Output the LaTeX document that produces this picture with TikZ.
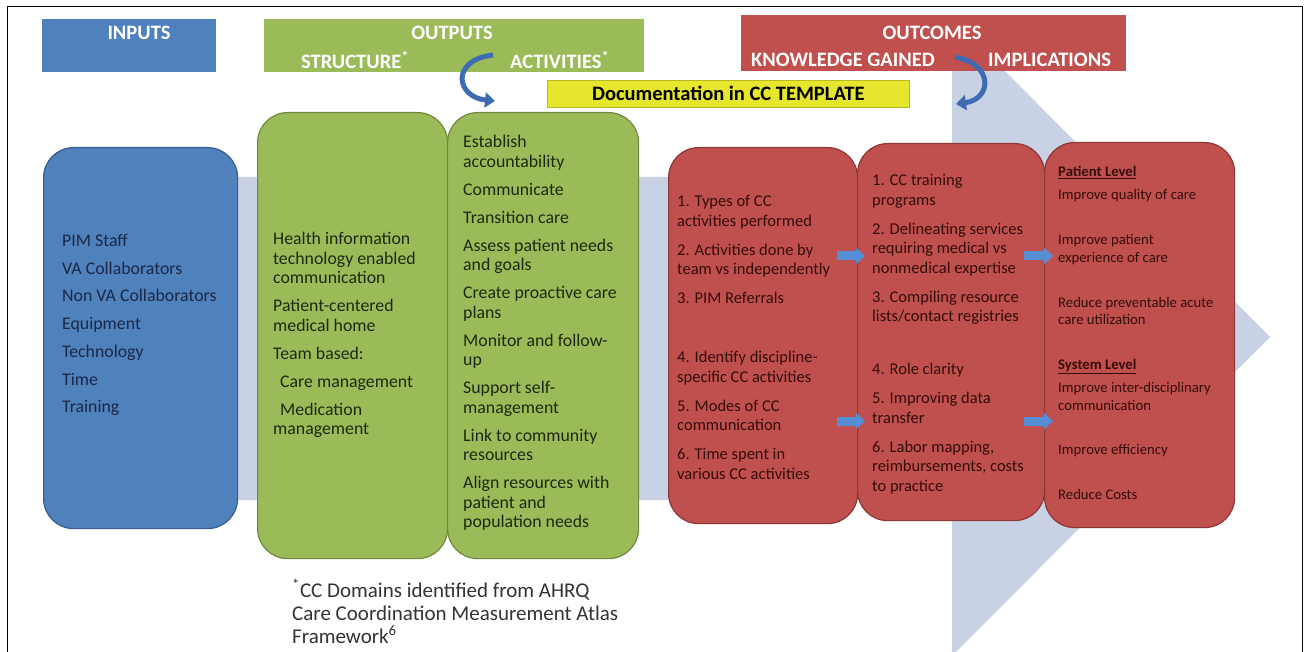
\documentclass[tikz,border=0pt]{standalone}
\usepackage{fontspec}
\setmainfont{Carlito}
\usetikzlibrary{arrows.meta,calc}
\definecolor{inblue}{RGB}{79,129,189}
\definecolor{inblueline}{RGB}{56,93,138}
\definecolor{outgreen}{RGB}{155,187,89}
\definecolor{outgreenline}{RGB}{113,137,63}
\definecolor{resred}{RGB}{192,80,77}
\definecolor{resredline}{RGB}{140,56,54}
\definecolor{docyellow}{RGB}{230,230,45}
\definecolor{bandblue}{RGB}{200,210,228}
\definecolor{curlblue}{RGB}{62,108,178}
\definecolor{hopblue}{RGB}{85,142,213}
\definecolor{intext}{RGB}{28,40,70}
\definecolor{outtext}{RGB}{32,40,18}
\definecolor{restext}{RGB}{52,12,12}
\tikzset{
  hdrbox/.style={anchor=north west, inner sep=0pt, minimum height=53pt},
  hdr/.style={text=white, font=\fontsize{20.5}{24}\selectfont\bfseries, inner sep=0pt},
  card/.style={anchor=north west, inner sep=0pt, rounded corners=30pt, line width=1.2pt},
  body/.style={anchor=north west, inner sep=0pt, align=left},
  curl/.style={curlblue, line width=5pt, -{Triangle[length=10pt,width=15pt]}},
  hop/.style={hopblue, line width=9pt, -{Triangle[length=9pt,width=16pt]}}
}
\begin{document}
\begin{tikzpicture}[x=1pt,y=-1pt]
\useasboundingbox (0,0) rectangle (1311,652);
\fill[bandblue] (60,177) -- (952,177) -- (952,18) -- (1270,337) -- (952,656) -- (952,500) -- (60,500) -- cycle;
\draw[line width=0.8pt] (7,6) rectangle (1302,680);

\node[hdrbox, fill=inblue, minimum width=174pt] (hinp) at (42,19) {};
\node[hdrbox, fill=outgreen, minimum width=380pt] (hout) at (264,19) {};
\node[hdrbox, fill=resred, minimum width=385pt, minimum height=56pt] (hres) at (741,15) {};
\node[hdr] (linp) at (139,33) {INPUTS};
\node[hdr] (lout) at (452,33) {OUTPUTS};
\node[hdr, anchor=west] (lstrc) at (301,60) {STRUCTURE\textsuperscript{*}};
\node[hdr, anchor=west] (lactv) at (510,60) {ACTIVITIES\textsuperscript{*}};
\node[hdr] (lres) at (932,33) {OUTCOMES};
\node[hdr, anchor=west] (lknow) at (751,60) {KNOWLEDGE GAINED};
\node[hdr, anchor=west] (limpl) at (988,60) {IMPLICATIONS};
\node[fill=docyellow, draw=docyellow!80!black, line width=0.6pt, anchor=north west, inner sep=0pt,
  minimum width=362pt, minimum height=27pt, font=\fontsize{20.5}{24}\selectfont\bfseries] (doc) at (547,80) {Documentation in CC TEMPLATE};

\node[card, fill=inblue, draw=inblueline, minimum width=194pt, minimum height=381pt] (inp) at (43,147) {};
\node[card, fill=outgreen, draw=outgreenline, minimum width=190pt, minimum height=446pt] (strc) at (257,112) {};
\node[card, fill=outgreen, draw=outgreenline, minimum width=191pt, minimum height=446pt] (actv) at (447,112) {};
\node[card, fill=resred, draw=resredline, minimum width=189pt, minimum height=376pt] (know) at (668,147) {};
\node[card, fill=resred, draw=resredline, minimum width=187pt, minimum height=377pt] (lesson) at (857,143) {};
\node[card, fill=resred, draw=resredline, minimum width=190pt, minimum height=385pt] (impl) at (1044,142) {};

\node[body, text=intext, font=\fontsize{17.8}{27.7}\selectfont] (tinp) at (62,234)
  {PIM Staff\\VA Collaborators\\Non VA Collaborators\\Equipment\\Technology\\Time\\Training};
\node[body, text=outtext, font=\fontsize{17.8}{19.5}\selectfont] (tstrc) at (273,232)
  {Health information\\technology enabled\\communication\\[8.5pt]Patient-centered\\medical home\\[8.5pt]Team based:\\[8.5pt]%
   \hspace*{7pt}Care management\\[8.5pt]\hspace*{7pt}Medication\\management};
\node[body, text=outtext, font=\fontsize{17.8}{19.5}\selectfont] (tactv) at (463,135)
  {Establish\\accountability\\[8.5pt]Communicate\\[8.5pt]Transition care\\[8.5pt]Assess patient needs\\and goals\\[8.5pt]%
   Create proactive care\\plans\\[8.5pt]Monitor and follow-\\up\\[8.5pt]Support self-\\management\\[8.5pt]%
   Link to community\\resources\\[8.5pt]Align resources with\\patient and\\population needs};
\node[body, text=restext, font=\fontsize{16.5}{19.5}\selectfont] (tknow) at (677,195)
  {1. Types of CC\\activities performed\\[9.5pt]2. Activities done by\\team vs independently\\[9.5pt]3. PIM Referrals\\[39.5pt]%
   4. Identify discipline-\\specific CC activities\\[9.5pt]5. Modes of CC\\communication\\[9.5pt]6. Time spent in\\various CC activities};
\node[body, text=restext, font=\fontsize{16.5}{19.5}\selectfont] (tlesson) at (872,174)
  {1. CC training\\programs\\[9.5pt]2. Delineating services\\requiring medical vs\\nonmedical expertise\\[9.5pt]%
   3. Compiling resource\\lists/contact registries\\[33.5pt]4. Role clarity\\[9.5pt]5. Improving data\\transfer\\[9.5pt]%
   6. Labor mapping,\\reimbursements, costs\\to practice};
\node[body, text=restext, font=\fontsize{14.7}{17.5}\selectfont] (timpl) at (1058,166)
  {\underline{\textbf{Patient Level}}\\[5.5pt]Improve quality of care\\[27.5pt]Improve patient\\experience of care\\[27.5pt]%
   Reduce preventable acute\\care utilization\\[27.5pt]\underline{\textbf{System Level}}\\[5.5pt]%
   Improve inter-disciplinary\\communication\\[27pt]Improve efficiency\\[27.5pt]Reduce Costs};
\node[body, text=black!80, font=\fontsize{21}{23}\selectfont] (fnote) at (292,579)
  {\textsuperscript{*}CC Domains identified from AHRQ\\Care Coordination Measurement Atlas\\Framework\textsuperscript{6}};

\coordinate (rowa) at (0,256);
\coordinate (rowb) at (0,421);
\draw[hop] ($(know.east |- rowa)+(-21,0)$) -- ($(lesson.west |- rowa)+(8,0)$);
\draw[hop] ($(know.east |- rowb)+(-21,0)$) -- ($(lesson.west |- rowb)+(8,0)$);
\draw[hop] ($(lesson.east |- rowa)+(-21,0)$) -- ($(impl.west |- rowa)+(9,0)$);
\draw[hop] ($(lesson.east |- rowb)+(-21,0)$) -- ($(impl.west |- rowb)+(9,0)$);

\coordinate (curla) at (493,55);
\coordinate (curlb) at (495,101);
\draw[curl] (curla) .. controls (450,60) and (456,97) .. (curlb);
\coordinate (curlc) at (955,57);
\coordinate (curld) at (956,104);
\draw[curl] (curlc) .. controls (994,64) and (992,99) .. (curld);
\end{tikzpicture}
\end{document}
